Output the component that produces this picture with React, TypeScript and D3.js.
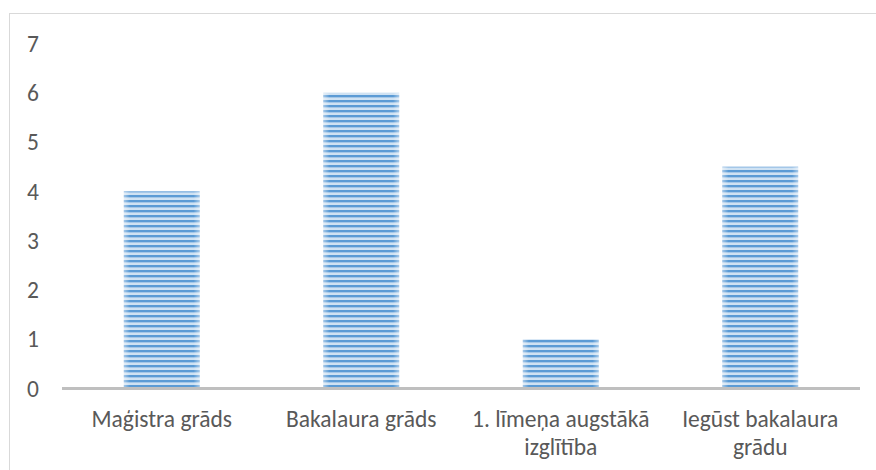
import React from "react";
import * as d3 from "d3";

const categories: string[][] = [
  ["Maģistra grāds"],
  ["Bakalaura grāds"],
  ["1. līmeņa augstākā", "izglītība"],
  ["Iegūst bakalaura", "grādu"],
];
const values: number[] = [4, 6, 1, 4.5];
const yTicks: number[] = [0, 1, 2, 3, 4, 5, 6, 7];

const W = 876;
const H = 470;
const plot = { left: 62, right: 860, top: 43.5, bottom: 388.5 };

export default function App() {
  const x = d3
    .scaleBand<number>()
    .domain(values.map((_, i) => i))
    .range([plot.left, plot.right])
    .paddingInner(0.62)
    .paddingOuter(0.31);
  const y = d3.scaleLinear().domain([0, 7]).range([plot.bottom, plot.top]);
  const font = "Carlito, 'Open Sans', 'Noto Sans', sans-serif";
  const fs = 23.5;

  return (
    <svg
      width={W}
      height={H}
      style={{ position: "absolute", left: 0, top: 0, background: "#fff" }}
    >
      <defs>
        <pattern id="stripes" width="8" height="5" patternUnits="userSpaceOnUse">
          <rect width="8" height="5" fill="#cfe2f3" />
          <rect y="0" width="8" height="2" fill="#5b9bd5" />
          <rect y="2" width="8" height="1" fill="#a4c7e8" />
        </pattern>
        <linearGradient id="edge" x1="0" x2="1" y1="0" y2="0">
          <stop offset="0" stopColor="#ffffff" stopOpacity="0.45" />
          <stop offset="0.08" stopColor="#ffffff" stopOpacity="0" />
          <stop offset="0.92" stopColor="#ffffff" stopOpacity="0" />
          <stop offset="1" stopColor="#ffffff" stopOpacity="0.45" />
        </linearGradient>
      </defs>
      <rect x={9.5} y={13.5} width={W} height={H} fill="none" stroke="#d9d9d9" strokeWidth={1} />
      {yTicks.map((t) => (
        <text
          key={t}
          x={39}
          y={y(t)}
          dy="0.35em"
          textAnchor="end"
          fontFamily={font}
          fontSize={fs}
          fill="#595959"
        >
          {t}
        </text>
      ))}
      {values.map((v, i) => (
        <g key={i}>
          <rect
            x={x(i)}
            y={y(v)}
            width={x.bandwidth()}
            height={y(0) - y(v)}
            fill="url(#stripes)"
          />
          <rect
            x={x(i)}
            y={y(v)}
            width={x.bandwidth()}
            height={y(0) - y(v)}
            fill="url(#edge)"
          />
        </g>
      ))}
      <line
        x1={plot.left}
        x2={plot.right}
        y1={y(0)}
        y2={y(0)}
        stroke="#bfbfbf"
        strokeWidth={3}
      />
      {categories.map((lines, i) => (
        <text
          key={i}
          x={(x(i) as number) + x.bandwidth() / 2}
          y={427}
          textAnchor="middle"
          fontFamily={font}
          fontSize={fs}
          fill="#595959"
        >
          {lines.map((l, j) => (
            <tspan key={j} x={(x(i) as number) + x.bandwidth() / 2} dy={j === 0 ? 0 : 28}>
              {l}
            </tspan>
          ))}
        </text>
      ))}
    </svg>
  );
}
